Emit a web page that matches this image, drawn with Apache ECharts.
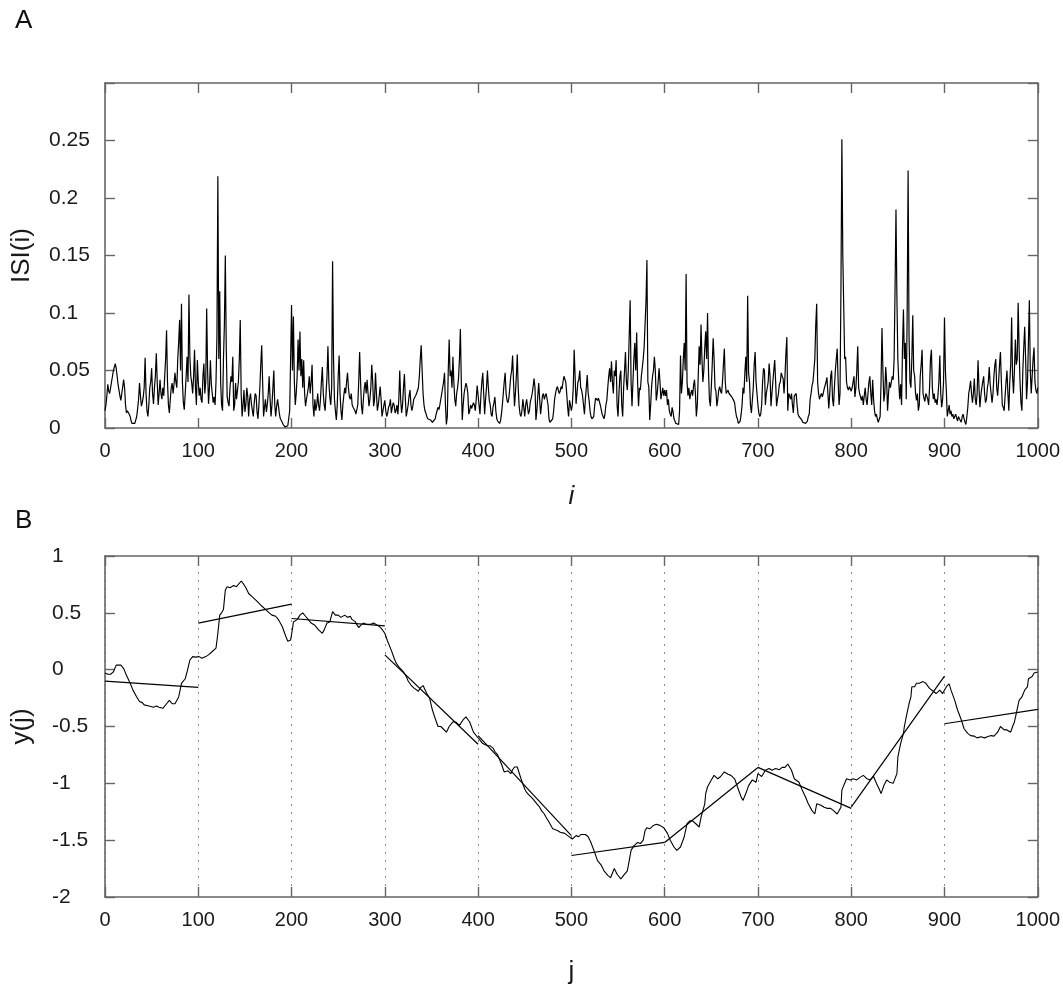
<!DOCTYPE html>
<html>
<head>
<meta charset="utf-8">
<script src="https://cdn.jsdelivr.net/npm/echarts@6/dist/echarts.min.js"></script>
<style>
html, body { margin: 0; padding: 0; background: #fff; }
#chart { width: 1063px; height: 990px; }
</style>
</head>
<body>
<div id="chart"></div>
<script>
// panel A: ISI(i) for i = 0..1000, in thousandths
var isiValues = [
  15,20,28,38,32,30,35,40,45,50,
  53,56,52,45,38,33,28,24,30,36,
  42,35,20,13,15,14,12,10,6,4,
  3,3,4,3,10,17,25,39,28,19,
  22,27,35,61,30,15,10,20,35,40,
  52,30,21,35,45,65,40,20,30,42,
  30,25,35,28,45,60,85,40,20,13,
  25,35,39,30,38,48,40,35,60,75,
  94,50,108,40,22,16,30,45,62,40,
  116,62,45,39,30,45,68,35,20,59,
  40,28,35,25,22,45,56,30,40,104,
  50,21,35,59,38,30,22,27,20,40,
  80,219,60,119,40,20,15,60,90,150,
  70,27,22,19,35,45,40,62,15,20,
  39,25,24,40,60,94,30,10,20,33,
  14,20,35,28,10,25,30,21,15,10,
  22,30,28,14,8,20,35,55,72,40,
  10,18,25,14,20,30,45,25,10,20,
  35,50,20,10,19,25,19,12,8,7,
  5,3,2,1,1,1,2,2,15,60,
  107,50,97,40,20,30,45,77,50,84,
  45,60,35,59,30,19,25,24,35,45,
  30,40,55,20,10,25,15,20,30,20,
  15,25,40,53,30,20,15,30,45,71,
  40,27,20,35,145,60,25,15,7,20,
  45,63,30,15,7,20,28,35,30,40,
  48,35,27,25,30,20,18,19,15,12,
  11,20,40,66,40,19,12,25,35,40,
  30,42,30,19,25,35,55,40,19,25,
  48,30,15,20,28,36,25,10,15,20,
  24,15,10,13,18,20,25,13,18,22,
  20,13,15,20,12,25,50,25,13,20,
  35,47,25,10,15,20,28,33,20,15,
  19,25,24,28,30,29,35,45,60,72,
  50,30,20,15,13,10,8,7,9,7,
  7,5,4,5,8,12,15,18,16,20,
  25,30,35,40,48,20,3,10,50,77,
  45,50,35,62,40,25,19,30,35,43,
  60,86,40,7,20,30,35,39,36,30,
  12,15,20,17,18,22,20,15,25,37,
  37,20,12,28,40,48,30,12,25,35,
  50,35,24,20,12,10,18,22,27,15,
  8,6,5,4,6,12,20,30,40,48,
  30,24,22,26,35,45,50,63,40,19,
  30,45,64,35,19,12,10,15,25,18,
  10,20,25,24,12,15,23,26,30,36,
  43,35,7,15,28,39,25,12,20,28,
  30,25,28,30,30,20,8,5,4,4,
  8,15,25,30,34,36,37,30,32,36,
  34,40,45,46,40,30,18,10,24,20,
  15,20,35,68,45,21,30,40,42,50,
  35,33,28,20,12,25,35,46,30,24,
  15,10,8,7,10,20,26,25,24,26,
  25,20,16,12,10,8,12,20,24,35,
  45,52,40,58,40,30,50,45,59,20,
  10,30,45,50,20,10,35,50,66,40,
  33,50,80,111,40,19,40,60,74,50,
  83,40,19,35,33,45,52,60,70,90,
  110,146,40,36,7,20,36,45,50,62,
  50,24,30,40,52,40,25,30,35,28,
  33,28,33,20,25,15,12,10,18,14,
  8,6,4,3,4,3,15,63,30,40,
  60,74,50,134,40,28,35,25,30,33,
  28,37,42,30,10,20,45,71,55,90,
  60,40,50,70,84,60,100,50,25,19,
  35,55,78,60,35,32,19,25,33,36,
  32,30,40,55,69,40,30,30,33,30,
  29,30,27,26,24,22,15,10,8,4,
  4,6,12,20,35,30,48,62,40,115,
  48,40,20,13,12,35,55,66,40,30,
  20,13,10,12,20,40,52,50,20,30,
  35,40,56,45,19,30,40,50,59,40,
  19,25,30,38,40,48,45,43,30,45,
  65,79,15,30,28,25,30,20,13,28,
  29,30,20,12,10,10,9,7,5,5,
  4,4,4,6,10,12,25,30,37,40,
  50,60,90,108,40,30,25,28,30,27,
  30,34,35,40,44,30,17,30,45,50,
  25,19,35,50,60,69,40,20,30,120,
  251,150,105,60,62,40,35,33,36,35,
  32,35,40,45,27,35,50,71,35,30,
  30,24,28,20,28,35,25,20,30,40,
  45,30,20,42,25,15,10,12,8,5,
  4,10,40,87,50,23,30,53,40,15,
  30,40,35,40,45,42,60,120,190,113,
  60,40,25,38,20,70,103,60,74,25,
  100,224,80,40,35,60,98,50,45,30,
  24,30,15,20,45,55,68,30,26,23,
  30,28,25,20,35,60,68,35,25,30,
  22,25,20,28,40,63,30,18,25,40,
  96,50,32,10,15,20,12,15,10,12,
  8,10,12,9,6,10,8,9,5,10,
  12,8,5,3,10,18,30,35,41,30,
  22,30,43,25,20,30,59,35,18,28,
  35,40,45,30,22,25,35,40,53,38,
  30,22,30,45,55,60,35,28,40,55,
  66,40,20,18,15,28,40,50,30,15,
  40,55,96,45,30,50,77,55,60,109,
  70,40,22,15,50,70,88,60,25,40,
  75,111,50,30,45,60,70,40,33,30,
  35
];

// panel B: profile y(j), read as [j, y]
var profilePoints = [
  [0,-0.03],[3,-0.04],[6,-0.04],[9,-0.02],[12,0.04],[14,0.05],[17,0.04],[20,0.01],[23,-0.05],[27,-0.12],
  [30,-0.18],[34,-0.24],[37,-0.28],[40,-0.29],[42,-0.31],[44,-0.30],[47,-0.32],[49,-0.33],[52,-0.33],[55,-0.32],
  [58,-0.33],[60,-0.34],[62,-0.34],[66,-0.30],[69,-0.27],[72,-0.30],[75,-0.30],[77,-0.29],[79,-0.24],[82,-0.12],
  [84,-0.11],[86,-0.08],[88,-0.02],[91,0.085],[92,0.10],[94,0.115],[97,0.11],[99,0.12],[101,0.115],[104,0.10],
  [106,0.11],[108,0.115],[111,0.13],[113,0.14],[115,0.16],[117,0.17],[119,0.19],[121,0.32],[123,0.48],[125,0.50],
  [127,0.53],[129,0.70],[131,0.73],[134,0.72],[136,0.73],[138,0.74],[141,0.73],[143,0.74],[146,0.78],[148,0.76],
  [151,0.72],[154,0.67],[158,0.64],[162,0.61],[165,0.585],[168,0.56],[170,0.57],[172,0.53],[176,0.50],[179,0.48],
  [183,0.47],[186,0.44],[190,0.38],[194,0.29],[196,0.25],[199,0.26],[201,0.36],[202,0.42],[206,0.44],[209,0.48],
  [212,0.50],[215,0.47],[218,0.44],[221,0.41],[225,0.39],[229,0.35],[233,0.32],[235,0.35],[238,0.41],[241,0.42],
  [244,0.51],[247,0.48],[250,0.48],[253,0.46],[257,0.48],[260,0.46],[263,0.47],[265,0.44],[268,0.425],[272,0.37],
  [274,0.39],[277,0.41],[280,0.40],[282,0.41],[285,0.40],[288,0.41],[290,0.40],[293,0.385],[296,0.365],[300,0.32],
  [303,0.25],[307,0.17],[310,0.10],[312,0.06],[316,0.015],[320,-0.02],[323,-0.06],[325,-0.10],[328,-0.135],[331,-0.16],
  [333,-0.17],[336,-0.19],[338,-0.16],[341,-0.14],[345,-0.21],[348,-0.25],[351,-0.355],[354,-0.43],[357,-0.50],[360,-0.50],
  [362,-0.515],[366,-0.55],[369,-0.50],[373,-0.46],[376,-0.46],[380,-0.49],[384,-0.44],[387,-0.415],[389,-0.43],[391,-0.46],
  [395,-0.55],[399,-0.59],[402,-0.62],[405,-0.65],[410,-0.67],[413,-0.67],[416,-0.69],[418,-0.72],[421,-0.75],[425,-0.83],
  [428,-0.90],[432,-0.89],[435,-0.915],[437,-0.88],[439,-0.856],[442,-0.856],[446,-0.96],[450,-1.05],[452,-1.08],[455,-1.105],
  [458,-1.13],[460,-1.15],[463,-1.18],[466,-1.21],[468,-1.24],[471,-1.27],[473,-1.30],[476,-1.34],[480,-1.40],[485,-1.415],
  [488,-1.43],[490,-1.42],[493,-1.44],[496,-1.46],[501,-1.49],[505,-1.46],[508,-1.47],[510,-1.45],[512,-1.44],[515,-1.45],
  [518,-1.47],[521,-1.52],[525,-1.61],[528,-1.68],[532,-1.72],[535,-1.77],[539,-1.81],[542,-1.83],[546,-1.75],[549,-1.80],
  [553,-1.84],[556,-1.81],[560,-1.77],[562,-1.68],[564,-1.59],[567,-1.55],[571,-1.52],[574,-1.53],[577,-1.50],[579,-1.415],
  [581,-1.39],[584,-1.40],[588,-1.37],[591,-1.36],[595,-1.37],[599,-1.39],[603,-1.44],[606,-1.50],[610,-1.56],[613,-1.59],
  [617,-1.56],[621,-1.47],[624,-1.355],[627,-1.33],[630,-1.33],[634,-1.36],[637,-1.385],[639,-1.30],[643,-1.18],[644,-1.09],
  [646,-1.03],[650,-0.97],[653,-0.93],[657,-0.96],[660,-0.94],[664,-0.90],[668,-0.92],[671,-0.93],[675,-0.96],[678,-1.03],
  [682,-1.12],[684,-1.15],[687,-1.09],[690,-1.02],[694,-0.97],[698,-0.99],[700,-0.915],[704,-0.94],[708,-0.885],[712,-0.87],
  [715,-0.885],[719,-0.87],[723,-0.88],[726,-0.86],[729,-0.86],[732,-0.83],[736,-0.885],[739,-0.96],[744,-0.99],[747,-1.05],
  [751,-1.12],[754,-1.18],[758,-1.24],[761,-1.27],[763,-1.18],[767,-1.19],[771,-1.21],[774,-1.22],[778,-1.22],[781,-1.24],
  [785,-1.27],[787,-1.28],[789,-1.21],[790,-1.06],[793,-1.00],[795,-0.96],[799,-0.97],[802,-0.96],[806,-0.97],[809,-0.95],
  [813,-0.93],[817,-0.96],[820,-0.97],[824,-0.94],[827,-1.00],[830,-1.05],[832,-1.09],[835,-1.02],[838,-0.97],[841,-0.99],
  [845,-1.00],[847,-0.99],[849,-0.915],[850,-0.77],[853,-0.65],[856,-0.56],[857,-0.50],[859,-0.415],[862,-0.30],[864,-0.24],
  [865,-0.15],[868,-0.15],[870,-0.12],[873,-0.12],[877,-0.105],[880,-0.12],[884,-0.165],[888,-0.19],[891,-0.21],[895,-0.18],
  [898,-0.21],[902,-0.15],[905,-0.125],[907,-0.18],[911,-0.27],[914,-0.355],[918,-0.44],[921,-0.52],[925,-0.56],[928,-0.58],
  [932,-0.585],[935,-0.60],[939,-0.59],[943,-0.60],[946,-0.59],[950,-0.58],[953,-0.585],[957,-0.55],[960,-0.50],[964,-0.53],
  [967,-0.53],[971,-0.55],[973,-0.50],[975,-0.46],[977,-0.385],[980,-0.27],[983,-0.24],[986,-0.18],[989,-0.15],[990,-0.08],
  [994,-0.06],[996,-0.03],[1000,-0.02]
];

// panel B: local linear fit in each box of 100
var boxEdges = [0, 100, 200, 300, 400, 500, 600, 700, 800, 900, 1000];
var fitStart = [-0.10, 0.41, 0.45, 0.13, -0.58, -1.635, -1.52, -0.86, -1.21, -0.476];
var fitEnd   = [-0.155, 0.577, 0.386, -0.656, -1.46, -1.52, -0.86, -1.22, -0.056, -0.35];

var FONT = 'Liberation Sans, Arial, sans-serif';
var frameColor = '#666';

function bottomAxis(grid, name, nameGap, italic, dotted) {
  return {
    gridIndex: grid, type: 'value', min: 0, max: 1000, interval: 100,
    axisLine: { show: true, onZero: false, lineStyle: { color: frameColor, width: 1.6 } },
    axisTick: { inside: true, length: 10, lineStyle: { color: frameColor, width: 1.4 } },
    axisLabel: { color: '#1a1a1a', fontSize: 20, fontFamily: FONT, margin: 13,
      formatter: function (v) { return String(v); } },
    splitLine: dotted ? { show: true, lineStyle: { color: '#888', type: [2, 6], width: 1 } } : { show: false },
    name: name, nameLocation: 'middle', nameGap: nameGap,
    nameTextStyle: { color: '#1a1a1a', fontSize: 26, fontFamily: FONT, fontStyle: italic ? 'italic' : 'normal' }
  };
}
function topAxis(grid) {
  return {
    gridIndex: grid, type: 'value', position: 'top', min: 0, max: 1000, interval: 100,
    axisLine: { show: true, onZero: false, lineStyle: { color: frameColor, width: 1.6 } },
    axisTick: { inside: true, length: 10, lineStyle: { color: frameColor, width: 1.4 } },
    axisLabel: { show: false }, splitLine: { show: false }
  };
}
function leftAxis(grid, min, max, step, name, margin, hideMax) {
  return {
    gridIndex: grid, type: 'value', min: min, max: max, interval: step,
    axisLine: { show: true, onZero: false, lineStyle: { color: frameColor, width: 1.6 } },
    axisTick: { inside: true, length: 10, lineStyle: { color: frameColor, width: 1.4 } },
    axisLabel: {
      color: '#1a1a1a', fontSize: 21, fontFamily: FONT, align: 'left', margin: margin,
      formatter: function (v) { return (hideMax && v >= max) ? '' : String(v); }
    },
    splitLine: { show: false },
    name: name, nameLocation: 'middle', nameGap: 70,
    nameTextStyle: { color: '#1a1a1a', fontSize: 26, fontFamily: FONT }
  };
}
function rightAxis(grid, min, max, step) {
  return {
    gridIndex: grid, type: 'value', position: 'right', min: min, max: max, interval: step,
    axisLine: { show: true, onZero: false, lineStyle: { color: frameColor, width: 1.6 } },
    axisTick: { inside: true, length: 10, lineStyle: { color: frameColor, width: 1.4 } },
    axisLabel: { show: false }, splitLine: { show: false }
  };
}

var series = [
  {
    type: 'line', xAxisIndex: 0, yAxisIndex: 0, showSymbol: false,
    lineStyle: { color: '#000', width: 1.2 },
    data: isiValues.map(function (v, i) { return [i, v / 1000]; })
  },
  {
    type: 'line', xAxisIndex: 2, yAxisIndex: 2, showSymbol: false,
    lineStyle: { color: '#000', width: 1.1 },
    data: profilePoints
  }
];
for (var k = 0; k < fitStart.length; k++) {
  series.push({
    type: 'line', xAxisIndex: 2, yAxisIndex: 2, showSymbol: false,
    lineStyle: { color: '#000', width: 1.2 },
    data: [[boxEdges[k], fitStart[k]], [boxEdges[k + 1], fitEnd[k]]]
  });
}

var chart = echarts.init(document.getElementById('chart'), null, { renderer: 'canvas' });
chart.setOption({
  animation: false,
  backgroundColor: '#fff',
  title: [
    { text: 'A', left: 15, top: 8, padding: 0, textStyle: { fontSize: 26, fontWeight: 'normal', color: '#111', fontFamily: FONT } },
    { text: 'B', left: 15, top: 508, padding: 0, textStyle: { fontSize: 26, fontWeight: 'normal', color: '#111', fontFamily: FONT } }
  ],
  grid: [
    { left: 105, right: 19, top: 83, height: 345 },
    { left: 105, right: 19, top: 556, height: 341 }
  ],
  xAxis: [
    bottomAxis(0, 'i', 56, true, false),
    topAxis(0),
    bottomAxis(1, 'j', 62, false, true),
    topAxis(1)
  ],
  yAxis: [
    leftAxis(0, 0, 0.3, 0.05, 'ISI(i)', 56, true),
    rightAxis(0, 0, 0.3, 0.05),
    leftAxis(1, -2, 1, 0.5, 'y(j)', 53, false),
    rightAxis(1, -2, 1, 0.5)
  ],
  series: series
});
</script>
</body>
</html>
